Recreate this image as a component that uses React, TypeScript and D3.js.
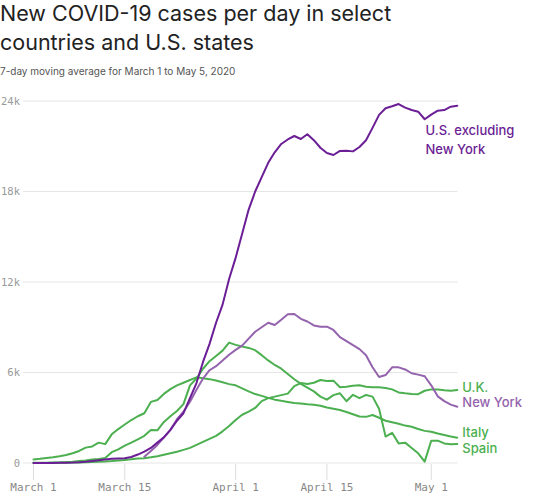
import React from 'react';
import * as d3 from 'd3';

// ---------- data (7-day moving averages, Mar 1 .. May 5, 2020) ----------
const startDay = '2020-03-01';
const endDay = '2020-05-05';

const usExNY = [
  0, 0, 0, 0, 10, 20, 30, 50, 80, 130,
  180, 230, 280, 300, 310, 400, 560, 750, 1000, 1350,
  1700, 2200, 2800, 3300, 4300, 5300, 6700, 7900, 9300, 10500,
  12200, 13600, 15200, 16800, 18000, 18950, 19900, 20600, 21150, 21450,
  21680, 21480, 21800, 21400, 20900, 20550, 20420, 20690, 20700, 20660,
  20950, 21400, 22220, 23080, 23520, 23650, 23800, 23560, 23400, 23290,
  22790, 23100, 23360, 23400, 23620, 23690,
];

const newYork = [
  null, null, null, null, null, null, null, null, null, null,
  null, null, null, null, null, null, null, 420, 800, 1200,
  1700, 2200, 2900, 3400, 4060, 4850, 5600, 6150, 6420, 6800,
  7180, 7500, 7780, 8250, 8700, 9000, 9300, 9150, 9500, 9860,
  9880, 9560, 9380, 9120, 9040, 9040, 8820, 8350, 8080, 7820,
  7550, 7150, 6350, 5700, 5830, 6340, 6340, 6200, 5950, 5860,
  5750, 5150, 4420, 4100, 3870, 3730,
];

const italy = [
  240, 280, 330, 380, 450, 530, 650, 800, 1020, 1100,
  1350, 1250, 1900, 2250, 2550, 2850, 3100, 3300, 4050, 4180,
  4580, 4900, 5150, 5320, 5500, 5680, 5620, 5560, 5470, 5350,
  5230, 5150, 4950, 4750, 4570, 4450, 4320, 4200, 4120, 4050,
  3980, 3950, 3900, 3860, 3800, 3680, 3600, 3510, 3380, 3230,
  3080, 3060, 3180, 3000, 2800, 2700, 2600, 2480, 2400, 2250,
  2130, 2070, 1950, 1850, 1760, 1680,
];

const spain = [
  10, 15, 20, 30, 40, 60, 90, 130, 170, 230,
  270, 330, 720, 900, 1150, 1350, 1570, 1800, 2190, 2170,
  2720, 3100, 3450, 3900, 5150, 5600, 6250, 6750, 7100, 7450,
  7980, 7830, 7730, 7630, 7480, 7150, 6800, 6500, 6250, 5900,
  5550, 5250, 5000, 4750, 4400, 4200, 4500, 4620, 4100, 4520,
  4300, 4510, 4400, 3600, 1750, 2000, 1300, 1350, 1000, 640,
  90, 1480, 1480, 1300, 1250, 1260,
];

const uk = [
  0, 5, 5, 10, 15, 20, 30, 40, 50, 60,
  80, 100, 130, 170, 200, 250, 300, 320, 380, 450,
  550, 650, 750, 870, 1000, 1200, 1400, 1600, 1800, 2100,
  2450, 2850, 3200, 3400, 3650, 4100, 4300, 4400, 4500, 4600,
  5100, 5300, 5240, 5320, 5500, 5440, 5460, 5020, 5050, 5120,
  5150, 5060, 5030, 5020, 4970, 4880, 4680, 4620, 4580, 4560,
  4790, 4880, 4870, 4820, 4790, 4840,
];

const yTicks = [0, 6000, 12000, 18000, 24000];
const yTickLabels = ['0', '6k', '12k', '18k', '24k'];
const xTickDays = ['2020-03-01', '2020-03-15', '2020-04-01', '2020-04-15', '2020-05-01'];
const xTickLabels = ['March 1', 'March 15', 'April 1', 'April 15', 'May 1'];

const titleLines = ['New COVID-19 cases per day in select', 'countries and U.S. states'];
const subtitle = '7-day moving average for March 1 to May 5, 2020';

// ---------- styling ----------
const W = 533;
const H = 500;
const DARK_PURPLE = '#6b1e95';
const LIGHT_PURPLE = '#9463ad';
const GREEN = '#4caf50';

const parse = (s: string) => new Date(s + 'T00:00:00Z');

export default function App() {
  const x = d3.scaleUtc().domain([parse(startDay), parse(endDay)]).range([33.5, 457.3]);
  const y = d3.scaleLinear().domain([0, 24000]).range([463, 101]);
  const dayDate = (i: number) => d3.utcDay.offset(parse(startDay), i);

  const line = d3
    .line<number | null>()
    .defined((d) => d !== null)
    .x((_, i) => x(dayDate(i)))
    .y((d) => y(d as number));

  const series = [
    { key: 'italy', values: italy, color: GREEN },
    { key: 'spain', values: spain, color: GREEN },
    { key: 'uk', values: uk, color: GREEN },
    { key: 'ny', values: newYork, color: LIGHT_PURPLE },
    { key: 'us', values: usExNY, color: DARK_PURPLE },
  ];

  const labelFont = "Inter, 'Noto Sans', sans-serif";
  const monoFont = "'DejaVu Sans Mono', 'Liberation Mono', monospace";
  const endX = x(parse(endDay)) + 5;

  const seriesLabels = [
    { lines: ['U.S. excluding', 'New York'], color: DARK_PURPLE, x: 425.5, y: 135 },
    { lines: ['U.K.'], color: GREEN, x: endX, y: 392 },
    { lines: ['New York'], color: LIGHT_PURPLE, x: endX, y: 407 },
    { lines: ['Italy'], color: GREEN, x: endX, y: 437 },
    { lines: ['Spain'], color: GREEN, x: endX, y: 453 },
  ];

  return (
    <svg
      width={W}
      height={H}
      style={{ position: 'absolute', left: 0, top: 0, display: 'block', background: '#fff' }}
    >
      {/* title */}
      {titleLines.map((t, i) => (
        <text key={t} x={0} y={21 + i * 29} fontFamily={labelFont} fontSize={21.5} fill="#222">
          {t}
        </text>
      ))}
      <text x={0} y={75} fontFamily={labelFont} fontSize={10} fill="#555">
        {subtitle}
      </text>

      {/* y grid */}
      {yTicks.map((t, i) => (
        <g key={t}>
          <line x1={23} x2={457.5} y1={y(t)} y2={y(t)} stroke="#e6e6e6" strokeWidth={1} />
          <text
            x={20}
            y={y(t)}
            dy="0.35em"
            textAnchor="end"
            fontFamily={monoFont}
            fontSize={10.5}
            fill="#999"
          >
            {yTickLabels[i]}
          </text>
        </g>
      ))}

      {/* x ticks */}
      {xTickDays.map((d, i) => (
        <g key={d}>
          <line x1={x(parse(d))} x2={x(parse(d))} y1={464} y2={480} stroke="#ddd" strokeWidth={1} />
          <text
            x={x(parse(d))}
            y={491}
            textAnchor="middle"
            fontFamily={monoFont}
            fontSize={11}
            fill="#888"
          >
            {xTickLabels[i]}
          </text>
        </g>
      ))}

      {/* lines */}
      {series.map((s) => (
        <path
          key={s.key}
          d={line(s.values as (number | null)[]) || ''}
          fill="none"
          stroke={s.color}
          strokeWidth={2}
          strokeLinejoin="round"
          strokeLinecap="round"
        />
      ))}

      {/* series labels */}
      {seriesLabels.map((l) =>
        l.lines.map((t, j) => (
          <text
            key={l.lines.join() + j}
            x={l.x}
            y={l.y + j * 19}
            fontFamily={labelFont}
            fontSize={13}
            fontWeight={500}
            fill={l.color}
          >
            {t}
          </text>
        ))
      )}
    </svg>
  );
}
